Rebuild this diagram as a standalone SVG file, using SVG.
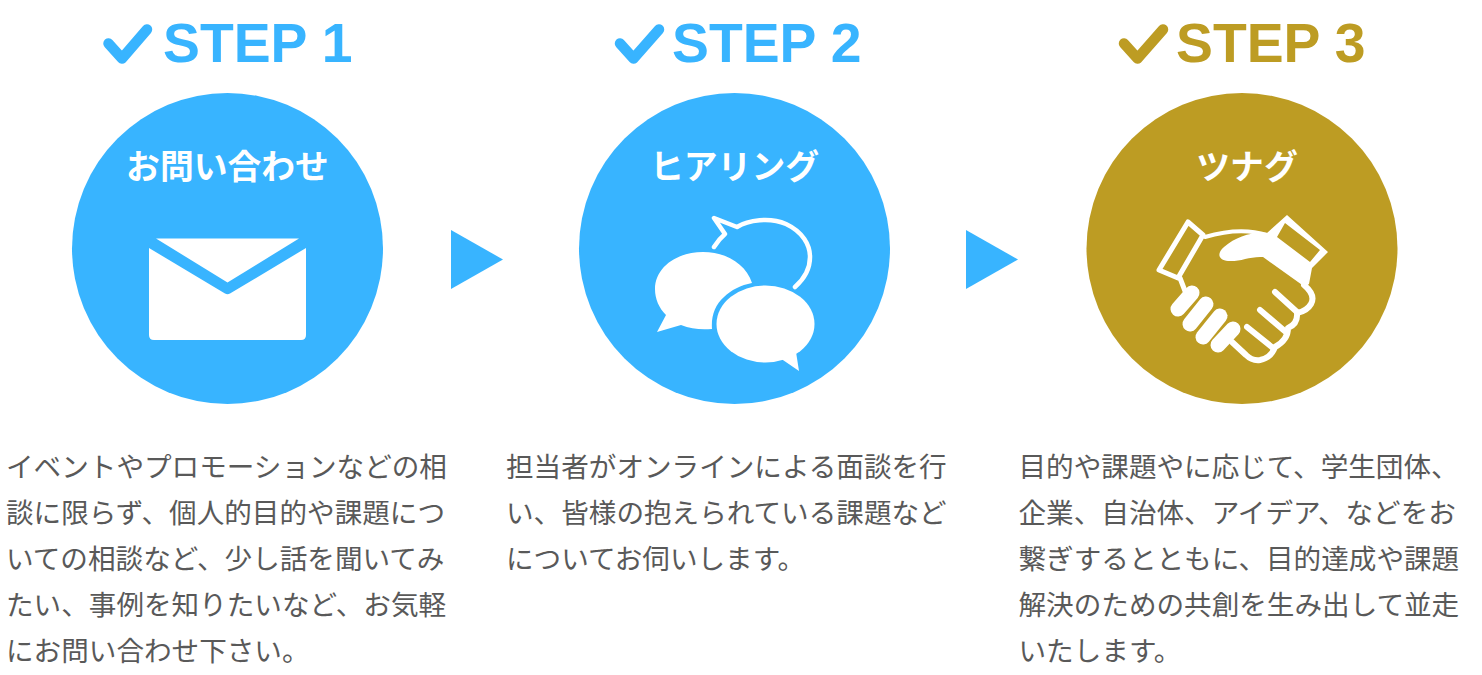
<svg xmlns="http://www.w3.org/2000/svg" width="1482" height="675" viewBox="0 0 1482 675">
<style>
.b{fill:#38b4ff}.g{fill:#bd9c23}.w{fill:#fff}
.step{font:bold 55.300px "Liberation Sans",Arial,sans-serif}
.t{font:bold 33.800px "Noto Sans CJK JP","Noto Sans",sans-serif;fill:#fff;text-anchor:middle}
.p{font:400 27.600px "Noto Sans CJK JP",sans-serif;fill:#595959}
.ck{fill:none;stroke-width:10.500;stroke-linecap:round;stroke-linejoin:round}
.ln{fill:none;stroke:#fff;stroke-linejoin:round;stroke-linecap:round}
</style>
<rect width="1482" height="675" fill="#fff"/>
<g id="step1">
<path class="ck" stroke="#38b4ff" d="M108.500 43.500L122 58.500L147 29.500"/>
<text class="step b" x="163" y="62">STEP 1</text>
<circle class="b" cx="227.500" cy="248.500" r="155.500"/>
<text class="t" x="227.500" y="179">お問い合わせ</text>
<path class="w" d="M156 238.500H299L227.500 282.500Z"/>
<path class="w" d="M149 248L225 293.500Q227.500 295 230 293.500L306 248V335Q306 340 301 340H154Q149 340 149 335Z"/>
<text class="p"><tspan x="6" y="477">イベントやプロモーションなどの相</tspan><tspan x="6" y="523">談に限らず、個人的目的や課題につ</tspan><tspan x="6" y="569">いての相談など、少し話を聞いてみ</tspan><tspan x="6" y="615">たい、事例を知りたいなど、お気軽</tspan><tspan x="6" y="661">にお問い合わせ下さい。</tspan></text>
</g>
<g id="step2">
<path class="ck" stroke="#38b4ff" d="M620 43.500L633.500 58.500L659 29.500"/>
<text class="step b" x="672" y="62">STEP 2</text>
<circle class="b" cx="734.500" cy="248.500" r="155.500"/>
<text class="t" x="734.500" y="179">ヒアリング</text>
<path class="w" d="M752 283C746 264 726 252 703 252C676 252 655 268 655 289C655 299 659 308 666 315L657 332L681 325C691 329 701 330 712 329C711 316 715 305 724 297C731 290 741 285 752 283Z"/>
<ellipse class="w" cx="765.500" cy="324" rx="49" ry="38.500"/>
<path class="w" d="M780 358L796 352L799 371Z"/>
<path class="ln" stroke-width="4.500" stroke-linecap="butt" d="M714 247Q719 239 725 234L714 218L737 227C748 220 770 217 786 224C803 232 810 245 810 257C810 269 804 279 795 287"/>
<text class="p"><tspan x="506" y="477">担当者がオンラインによる面談を行</tspan><tspan x="506" y="523">い、皆様の抱えられている課題など</tspan><tspan x="506" y="569">についてお伺いします。</tspan></text>
</g>
<g id="step3">
<path class="ck" stroke="#bd9c23" d="M1124 43.500L1137.500 58.500L1163 29.500"/>
<text class="step g" x="1176" y="62">STEP 3</text>
<circle class="g" cx="1242" cy="248.500" r="155.500"/>
<text class="t" x="1247" y="179">ツナグ</text>
<path class="ln" stroke-width="5" d="M1188 222L1203 235L1178 278L1159 270Z"/>
<path class="ln" stroke-width="4" d="M1205 237C1225 231 1248 229 1267 235"/>
<path class="ln" stroke-width="5" d="M1180 278L1185 291"/>
<path class="w" fill-rule="evenodd" d="M1267 233L1287 215L1328 252L1312 268L1309 284L1305 287L1263 257C1250 256 1240 262 1228 261C1219 260 1216 254 1224 247C1236 237 1250 232 1267 233ZM1285 223L1320 250L1310 262L1277 237Z"/>
<path class="ln" stroke-width="6" d="M1304 285Q1316 295 1311 304Q1307 311 1297 313Q1298 324 1288 328Q1288 340 1275 347Q1271 358 1260 360Q1252 361 1246 355L1232 342"/>
<path class="ln" stroke-width="6" d="M1275 292L1297 312M1260 310L1287 333M1247 327L1273 348"/>
<g class="ln" stroke-width="15"><path d="M1192 293L1178 309"/><path d="M1206 304L1190 324"/><path d="M1220 316L1203 337"/><path d="M1233 329L1218 345"/></g>
<text class="p"><tspan x="1018.500" y="477">目的や課題やに応じて、学生団体、</tspan><tspan x="1018.500" y="523">企業、自治体、アイデア、などをお</tspan><tspan x="1018.500" y="569">繋ぎするとともに、目的達成や課題</tspan><tspan x="1018.500" y="615">解決のための共創を生み出して並走</tspan><tspan x="1018.500" y="661">いたします。</tspan></text>
</g>
<g id="connectors">
<path class="b" d="M451 230L503 259.500L451 289Z"/>
<path class="b" d="M966 230L1018 259.500L966 289Z"/>
</g>
</svg>
